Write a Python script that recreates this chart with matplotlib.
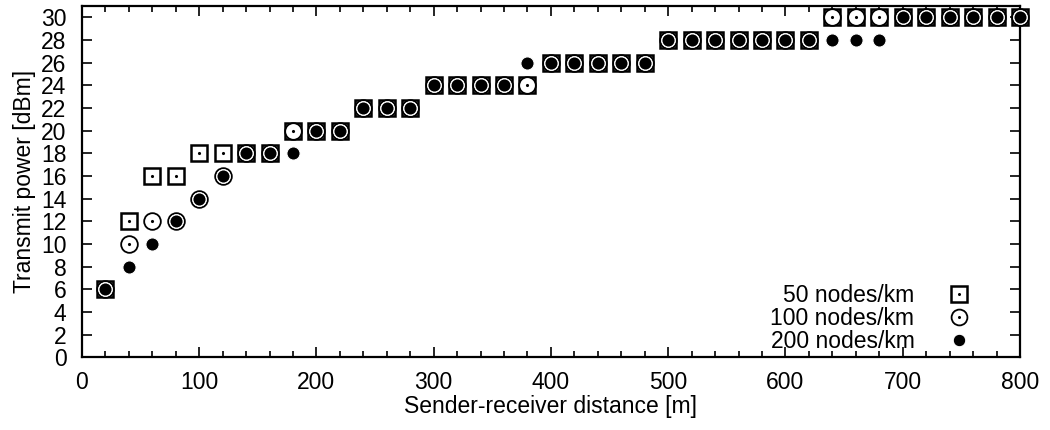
import matplotlib
matplotlib.use("Agg")
import matplotlib.pyplot as plt
from matplotlib.ticker import MultipleLocator

plt.rcParams['font.family'] = ['Liberation Sans', 'DejaVu Sans']

# sender-receiver distance [m]
distance = [20, 40, 60, 80, 100, 120, 140, 160, 180, 200,
            220, 240, 260, 280, 300, 320, 340, 360, 380, 400,
            420, 440, 460, 480, 500, 520, 540, 560, 580, 600,
            620, 640, 660, 680, 700, 720, 740, 760, 780, 800]

# transmit power [dBm] per node density
power_50 = [6, 12, 16, 16, 18, 18, 18, 18, 20, 20,
            20, 22, 22, 22, 24, 24, 24, 24, 24, 26,
            26, 26, 26, 26, 28, 28, 28, 28, 28, 28,
            28, 30, 30, 30, 30, 30, 30, 30, 30, 30]
power_100 = [6, 10, 12, 12, 14, 16, 18, 18, 20, 20,
             20, 22, 22, 22, 24, 24, 24, 24, 24, 26,
             26, 26, 26, 26, 28, 28, 28, 28, 28, 28,
             28, 30, 30, 30, 30, 30, 30, 30, 30, 30]
power_200 = [6, 8, 10, 12, 14, 16, 18, 18, 18, 20,
             20, 22, 22, 22, 24, 24, 24, 24, 26, 26,
             26, 26, 26, 26, 28, 28, 28, 28, 28, 28,
             28, 28, 28, 28, 30, 30, 30, 30, 30, 30]

labels = ["50 nodes/km", "100 nodes/km", "200 nodes/km"]

fig = plt.figure(figsize=(10.5, 4.3), dpi=100)
ax = fig.add_axes([0.078, 0.169, 0.8934, 0.817])

sq, = ax.plot(distance, power_50, ls='none', marker='s', ms=11.5, mfc='white',
              mec='black', mew=1.8, clip_on=False, zorder=3)
sq_dot, = ax.plot(distance, power_50, ls='none', marker='.', ms=2.5,
                  color='black', clip_on=False, zorder=3.1)
ci, = ax.plot(distance, power_100, ls='none', marker='o', ms=12, mfc='white',
              mec='black', mew=1.3, clip_on=False, zorder=4)
ci_dot, = ax.plot(distance, power_100, ls='none', marker='.', ms=2.5,
                  color='black', clip_on=False, zorder=4.1)
fi, = ax.plot(distance, power_200, ls='none', marker='o', ms=9.5, mfc='black',
              mec='white', mew=0.8, clip_on=False, zorder=5)

ax.set_xlim(0, 800)
ax.set_ylim(0, 31)
ax.xaxis.set_major_locator(MultipleLocator(100))
ax.xaxis.set_minor_locator(MultipleLocator(20))
ax.yaxis.set_major_locator(MultipleLocator(2))
ax.tick_params(which='both', direction='in', top=True, right=True,
               labelsize=16.5, width=1.2)
ax.tick_params(axis='x', pad=10)
ax.tick_params(axis='y', pad=11)
ax.tick_params(which='major', length=7)
ax.tick_params(which='minor', length=4)
for s in ax.spines.values():
    s.set_linewidth(1.6)

ax.set_xlabel("Sender-receiver distance [m]", fontsize=16.5, labelpad=0.5)
ax.set_ylabel("Transmit power [dBm]", fontsize=16.5, labelpad=4)

ax.legend([(sq, sq_dot), (ci, ci_dot), fi], labels, loc='lower right',
          bbox_to_anchor=(0.973, -0.039),
          frameon=False, markerfirst=False, fontsize=16.5, markerscale=0.95,
          handlelength=1.5, handletextpad=1.2, labelspacing=0.0,
          borderaxespad=0.4)

fig.savefig("out.png", dpi=100)
